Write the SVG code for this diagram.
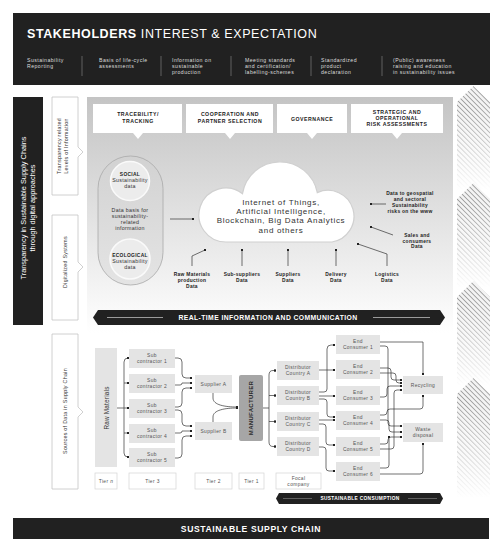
<svg xmlns="http://www.w3.org/2000/svg" width="504" height="550" viewBox="0 0 504 550">
<defs>
<style>
text{font-family:"Liberation Sans",Arial,sans-serif}
.band{fill:#212121}
.sub{font-size:5.2px;fill:#dcdcdc;letter-spacing:0.45px}
.hd{font-size:5.2px;font-weight:700;fill:#222;text-anchor:middle;letter-spacing:0.5px}
.lab{font-size:5.3px;fill:#333;text-anchor:middle;letter-spacing:0.3px}
.dl{font-size:4.9px;font-weight:700;fill:#222;text-anchor:middle;letter-spacing:0.3px}
.bx{fill:#e4e4e4}
.bt{font-size:4.9px;fill:#555;text-anchor:middle;letter-spacing:0.35px}
.c{fill:none;stroke:#333;stroke-width:0.7;marker-end:url(#dot)}
.cn{fill:none;stroke:#333;stroke-width:0.7}
.tier{fill:#fff;stroke:#d4d4d4;stroke-width:0.7}
.lbox{fill:#fff;stroke:#c4c4c4;stroke-width:0.8}
.tb{fill:#fff}
.sep{stroke:#8a8a8a;stroke-width:0.6}
.hatch{fill:url(#hatch)}
.fade{fill:url(#fade)}
</style>
<marker id="dot" viewBox="0 0 4 4" refX="2" refY="2" markerWidth="2.6" markerHeight="2.6" markerUnits="userSpaceOnUse"><circle cx="2" cy="2" r="2" fill="#222"/></marker>
<pattern id="hatch" width="3.5" height="3.5" patternUnits="userSpaceOnUse" patternTransform="rotate(-45)"><rect width="3.5" height="3.5" fill="#f4f4f4"/><line x1="0.5" y1="0" x2="0.5" y2="3.5" stroke="#7c7c7c" stroke-width="0.7"/></pattern>
<linearGradient id="fade" x1="0" y1="0" x2="0" y2="1"><stop offset="0" stop-color="#fff" stop-opacity="0"/><stop offset="0.2" stop-color="#fff" stop-opacity="0.05"/><stop offset="1" stop-color="#fff" stop-opacity="1"/></linearGradient>
<linearGradient id="panel" x1="0" y1="0" x2="0" y2="1"><stop offset="0" stop-color="#c4c4c4"/><stop offset="1" stop-color="#ffffff"/></linearGradient>
<linearGradient id="pill" x1="0" y1="0" x2="0" y2="1"><stop offset="0" stop-color="#d2d2d2"/><stop offset="1" stop-color="#e4e4e4"/></linearGradient>
</defs>

<!-- right hatched chevrons -->
<g id="chevrons">
<path class="hatch" d="M457,102 L473.5,86 L490,102 V190 H457 Z"/>
<path class="fade" d="M457,102 L473.5,86 L490,102 V190 H457 Z"/>
<path class="hatch" d="M457,199 L473.5,183 L490,199 V288 H457 Z"/>
<path class="fade" d="M457,199 L473.5,183 L490,199 V288 H457 Z"/>
<path class="hatch" d="M457,297 L473.5,281 L490,297 V386 H457 Z"/>
<path class="fade" d="M457,297 L473.5,281 L490,297 V386 H457 Z"/>
<path class="hatch" d="M457,394 L473.5,378 L490,394 V498 H457 Z"/>
<path class="fade" d="M457,394 L473.5,378 L490,394 V498 H457 Z"/>
</g>

<!-- top band -->
<g id="stakeholders">
<rect class="band" x="13" y="13" width="477" height="72"/>
<text x="27" y="37.5" font-size="12.5" fill="#fff" letter-spacing="0.6"><tspan font-weight="700">STAKEHOLDERS</tspan> INTEREST &amp; EXPECTATION</text>
<text class="sub" x="27" y="62">Sustainability<tspan x="27" dy="6">Reporting</tspan></text>
<text class="sub" x="99" y="62">Basis of life-cycle<tspan x="99" dy="6">assessments</tspan></text>
<text class="sub" x="172" y="62">Information on<tspan x="172" dy="6">sustainable</tspan><tspan x="172" dy="6">production</tspan></text>
<text class="sub" x="245" y="62">Meeting standards<tspan x="245" dy="6">and certification/</tspan><tspan x="245" dy="6">labelling-schemes</tspan></text>
<text class="sub" x="321" y="62">Standardized<tspan x="321" dy="6">product</tspan><tspan x="321" dy="6">declaration</tspan></text>
<text class="sub" x="393" y="62">(Public) awareness<tspan x="393" dy="6">raising and education</tspan><tspan x="393" dy="6">in sustainability issues</tspan></text>
<line class="sep" x1="82" y1="56" x2="82" y2="76"/>
<line class="sep" x1="161" y1="56" x2="161" y2="76"/>
<line class="sep" x1="231" y1="56" x2="231" y2="76"/>
<line class="sep" x1="311" y1="56" x2="311" y2="76"/>
<line class="sep" x1="382" y1="56" x2="382" y2="76"/>
</g>

<!-- left bar -->
<g id="transparency-bar">
<rect class="band" x="13" y="97" width="30" height="228"/>
<text transform="rotate(-90 26 208)" x="26" y="208" font-size="7.4" fill="#fff" text-anchor="middle">Transparency in Sustainable Supply Chains</text>
<text transform="rotate(-90 35 208)" x="35" y="208" font-size="7.4" fill="#fff" text-anchor="middle">through digital approaches</text>
</g>

<g id="label-levels">
<path class="lbox" d="M52,97 H78 V147 L83,152 L78,157 V195 H52 Z"/>
<text class="lab" transform="rotate(-90 61 146)" x="61" y="146">Transparency related</text>
<text class="lab" transform="rotate(-90 68 146)" x="68" y="146">Levels of Information</text>
</g>
<g id="label-digital">
<path class="lbox" d="M52,215 H78 V262 L83,267 L78,272 V320 H52 Z"/>
<text class="lab" font-size="5" letter-spacing="0.15" transform="rotate(-90 67 262)" x="67" y="262">Digitalized Systems</text>
</g>
<g id="label-sources">
<path class="lbox" d="M52,334 H78 V407 L83,412 L78,417 V489 H52 Z"/>
<text class="lab" font-size="5.6" letter-spacing="0.25" transform="rotate(-90 67 411)" x="67" y="411">Sources of Data in Supply Chain</text>
</g>

<!-- gray panel -->
<rect x="87" y="97" width="366" height="236" fill="url(#panel)"/>

<g id="tracebility">
<path class="tb" d="M93,104 H182 V133 H143 L138,139 L133,133 H93 Z"/>
<text class="hd" x="138" y="116">TRACEBILITY/<tspan x="138" dy="7">TRACKING</tspan></text>
</g>
<g id="cooperation">
<path class="tb" d="M186,104 H273 V133 H235 L230,139 L225,133 H186 Z"/>
<text class="hd" x="230" y="116">COOPERATION AND<tspan x="230" dy="7">PARTNER SELECTION</tspan></text>
</g>
<g id="governance">
<path class="tb" d="M277,104 H347 V133 H317 L312,139 L307,133 H277 Z"/>
<text class="hd" x="312" y="121">GOVERNANCE</text>
</g>
<g id="strategic">
<path class="tb" d="M351,104 H443 V133 H402 L397,139 L392,133 H351 Z"/>
<text class="hd" x="397" y="114">STRATEGIC AND<tspan x="397" dy="6">OPERATIONAL</tspan><tspan x="397" dy="6">RISK ASSESSMENTS</tspan></text>
</g>

<g id="sustainability-data">
<rect x="98" y="156" width="65" height="129" rx="32.5" fill="url(#pill)" stroke="#a8a8a8" stroke-width="0.8"/>
<circle cx="130" cy="181" r="19.5" fill="#ececec" stroke="#fafafa" stroke-width="1.5"/>
<text class="dl" font-size="5.4" x="130" y="176">SOCIAL</text>
<text class="lab" font-size="4.8" x="130" y="182">Sustainability<tspan x="130" dy="5.6">data</tspan></text>
<text class="lab" font-size="5.3" letter-spacing="0.45" x="130" y="212">Data basis for<tspan x="130" dy="6">sustainability-</tspan><tspan x="130" dy="6">related</tspan><tspan x="130" dy="6">information</tspan></text>
<circle cx="130" cy="259" r="20" fill="#ececec" stroke="#fafafa" stroke-width="1.5"/>
<text class="dl" font-size="5" letter-spacing="0.2" x="130" y="257">ECOLOGICAL</text>
<text class="lab" font-size="4.8" x="130" y="263">Sustainability<tspan x="130" dy="5.6">data</tspan></text>
</g>

<g id="cloud">
<path d="M226,242 A27,27 0 1 1 242.5,193.7 A38,38 0 0 1 317.3,192.6 A26,26 0 1 1 332,242 Z" fill="#fff" stroke="#d0d0d0" stroke-width="1.2"/>
<text x="281" y="205" font-size="8" fill="#333" text-anchor="middle" letter-spacing="0.7">Internet of Things,<tspan x="281" dy="9.2">Artificial Intelligence,</tspan><tspan x="281" dy="9.2">Blockchain, Big Data Analytics</tspan><tspan x="281" dy="9.2">and others</tspan></text>
</g>

<g id="data-labels">
<text class="dl" x="410" y="195">Data to geospatial<tspan x="410" dy="6">and sectoral</tspan><tspan x="410" dy="6">Sustainability</tspan><tspan x="410" dy="6">risks on the www</tspan></text>
<text class="dl" x="417" y="237">Sales and<tspan x="417" dy="5.7">consumers</tspan><tspan x="417" dy="5.7">Data</tspan></text>
<text class="dl" x="192" y="276">Raw Materials<tspan x="192" dy="6">production</tspan><tspan x="192" dy="6">Data</tspan></text>
<text class="dl" x="242" y="276">Sub-suppliers<tspan x="242" dy="6">Data</tspan></text>
<text class="dl" x="288" y="276">Suppliers<tspan x="288" dy="6">Data</tspan></text>
<text class="dl" x="336" y="276">Delivery<tspan x="336" dy="6">Data</tspan></text>
<text class="dl" x="387" y="276">Logistics<tspan x="387" dy="6">Data</tspan></text>
</g>

<g id="realtime-banner">
<path class="band" d="M98,310 H440 L445,317.5 L440,325 H98 L93,317.5 Z"/>
<line x1="107" y1="317.5" x2="163" y2="317.5" stroke="#9a9a9a" stroke-width="1"/>
<line x1="373" y1="317.5" x2="430" y2="317.5" stroke="#9a9a9a" stroke-width="1"/>
<text x="268" y="320" font-size="6.8" font-weight="700" fill="#fff" text-anchor="middle" letter-spacing="0.4">REAL-TIME INFORMATION AND COMMUNICATION</text>
</g>

<!-- supply chain nodes -->
<g id="raw-materials">
<rect class="bx" x="95" y="348" width="22" height="119"/>
<text transform="rotate(-90 108.5 408)" x="108.5" y="408" font-size="6.4" fill="#333" text-anchor="middle" letter-spacing="0.2">Raw Materials</text>
</g>
<g id="sub1"><rect class="bx" x="129" y="349" width="46" height="19"/><text class="bt" x="152" y="357">Sub<tspan x="152" dy="6">contractor 1</tspan></text></g>
<g id="sub2"><rect class="bx" x="129" y="374" width="46" height="19"/><text class="bt" x="152" y="382">Sub<tspan x="152" dy="6">contractor 2</tspan></text></g>
<g id="sub3"><rect class="bx" x="129" y="399" width="46" height="19"/><text class="bt" x="152" y="407">Sub<tspan x="152" dy="6">contractor 3</tspan></text></g>
<g id="sub4"><rect class="bx" x="129" y="424" width="46" height="19"/><text class="bt" x="152" y="432">Sub<tspan x="152" dy="6">contractor 4</tspan></text></g>
<g id="sub5"><rect class="bx" x="129" y="448" width="46" height="19"/><text class="bt" x="152" y="456">Sub<tspan x="152" dy="6">contractor 5</tspan></text></g>
<g id="supplierA"><rect class="bx" x="195" y="375" width="37" height="18"/><text class="bt" font-size="5.3" x="213.5" y="386">Supplier A</text></g>
<g id="supplierB"><rect class="bx" x="195" y="422" width="37" height="18"/><text class="bt" font-size="5.3" x="213.5" y="433">Supplier B</text></g>
<g id="manufacturer">
<rect x="239" y="375" width="24" height="66" rx="2" fill="#a6a6a6"/>
<text transform="rotate(-90 253.2 408)" x="253.2" y="408" font-size="6" font-weight="700" fill="#2a2a2a" text-anchor="middle" letter-spacing="0.3">MANUFACTURER</text>
</g>
<g id="distA"><rect class="bx" x="277" y="361" width="42" height="19"/><text class="bt" x="298" y="369">Distributor<tspan x="298" dy="6">Country A</tspan></text></g>
<g id="distB"><rect class="bx" x="277" y="386" width="42" height="19"/><text class="bt" x="298" y="394">Distributor<tspan x="298" dy="6">Country B</tspan></text></g>
<g id="distC"><rect class="bx" x="277" y="412" width="42" height="19"/><text class="bt" x="298" y="420">Distributor<tspan x="298" dy="6">Country C</tspan></text></g>
<g id="distD"><rect class="bx" x="277" y="437" width="42" height="19"/><text class="bt" x="298" y="445">Distributor<tspan x="298" dy="6">Country D</tspan></text></g>
<g id="ec1"><rect class="bx" x="336" y="335" width="44" height="19"/><text class="bt" x="358" y="343">End<tspan x="358" dy="6">Consumer 1</tspan></text></g>
<g id="ec2"><rect class="bx" x="336" y="360" width="44" height="19"/><text class="bt" x="358" y="368">End<tspan x="358" dy="6">Consumer 2</tspan></text></g>
<g id="ec3"><rect class="bx" x="336" y="386" width="44" height="19"/><text class="bt" x="358" y="394">End<tspan x="358" dy="6">Consumer 3</tspan></text></g>
<g id="ec4"><rect class="bx" x="336" y="411" width="44" height="19"/><text class="bt" x="358" y="419">End<tspan x="358" dy="6">Consumer 4</tspan></text></g>
<g id="ec5"><rect class="bx" x="336" y="437" width="44" height="19"/><text class="bt" x="358" y="445">End<tspan x="358" dy="6">Consumer 5</tspan></text></g>
<g id="ec6"><rect class="bx" x="336" y="462" width="44" height="19"/><text class="bt" x="358" y="470">End<tspan x="358" dy="6">Consumer 6</tspan></text></g>
<g id="recycling"><rect class="bx" x="403" y="376" width="40" height="18"/><text class="bt" font-size="6" x="423" y="387">Recycling</text></g>
<g id="waste"><rect class="bx" x="403" y="423" width="40" height="19"/><text class="bt" font-size="5.3" x="423" y="431">Waste<tspan x="423" dy="6">disposal</tspan></text></g>

<g id="tiers">
<rect class="tier" x="95" y="473" width="22" height="16"/><text class="bt" fill="#333" font-size="4.6" x="106" y="482.5">Tier <tspan font-style="italic">n</tspan></text>
<rect class="tier" x="129" y="473" width="47" height="16"/><text class="bt" fill="#333" font-size="4.6" x="152.5" y="482.5">Tier 3</text>
<rect class="tier" x="195" y="473" width="37" height="16"/><text class="bt" fill="#333" font-size="4.6" x="213.5" y="482.5">Tier 2</text>
<rect class="tier" x="239" y="473" width="25" height="16"/><text class="bt" fill="#333" font-size="4.6" x="251.5" y="482.5">Tier 1</text>
<rect class="tier" x="276" y="473" width="45" height="16"/><text class="bt" fill="#333" font-size="4.6" x="298.5" y="480">Focal<tspan x="298.5" dy="5.5">company</tspan></text>
</g>

<g id="consumption-banner">
<path class="band" d="M279,493 H440 L443,498.5 L440,504 H279 L276,498.5 Z"/>
<line x1="283" y1="498.5" x2="312" y2="498.5" stroke="#8a8a8a" stroke-width="0.6"/>
<line x1="408" y1="498.5" x2="437" y2="498.5" stroke="#8a8a8a" stroke-width="0.6"/>
<text x="360" y="500.3" font-size="4.8" font-weight="700" fill="#fff" text-anchor="middle" letter-spacing="0.35">SUSTAINABLE CONSUMPTION</text>
</g>

<g id="supply-chain-band">
<rect class="band" x="13" y="518" width="476" height="21"/>
<text x="251" y="531.5" font-size="8.6" font-weight="700" fill="#fff" text-anchor="middle" letter-spacing="0.6">SUSTAINABLE SUPPLY CHAIN</text>
</g>

<!-- connectors -->
<g id="connectors">
<path class="c" d="M170,219 H193"/>
<path class="c" d="M386,204 H371"/>
<path class="c" d="M393,235 L371,227"/>
<path class="c" d="M192,266 V256 L205,250"/>
<path class="c" d="M242,266 V250"/>
<path class="c" d="M288,266 V250"/>
<path class="c" d="M336,266 V250"/>
<path class="c" d="M387,266 V254 L358,244"/>

<path class="cn" d="M117,408 H124"/>
<path class="cn" d="M124,362 V453"/>
<path class="c" d="M124,362 q0,-4 4,-4"/>
<path class="c" d="M124,383 H128"/>
<path class="c" d="M124,408 H128"/>
<path class="c" d="M124,433 H128"/>
<path class="c" d="M124,453 q0,4 4,4"/>

<path class="c" d="M175,358 h3 q4,0 4,4 v12 q0,4 4,4 h5"/>
<path class="c" d="M175,385 h5 q2,0 2,-2 h9"/>
<path class="c" d="M175,407 h3 q4,0 4,-4 v-11 q0,-4 4,-4 h5"/>
<path class="c" d="M175,410 h3 q4,0 4,4 v8 q0,4 4,4 h5"/>
<path class="c" d="M175,433 h5 q2,0 2,-2 h9"/>
<path class="c" d="M175,458 h3 q4,0 4,-4 v-14 q0,-4 4,-4 h5"/>

<path class="c" d="M213,393 v5 c0,7 12,9 24,9"/>
<path class="c" d="M213,422 v-5 c0,-7 12,-9 24,-9"/>

<path class="cn" d="M263,408 H269"/>
<path class="cn" d="M269,375 V442"/>
<path class="c" d="M269,375 q0,-4.5 4,-4.5 h2"/>
<path class="c" d="M269,395.5 H275"/>
<path class="c" d="M269,421.5 H275"/>
<path class="c" d="M269,442 q0,4.5 4,4.5 h2"/>

<path class="c" d="M319,370 H334"/>
<path class="c" d="M319,392 h5 q3,0 3,-3 v-40 q0,-4 4,-4 h3"/>
<path class="c" d="M319,396 H334"/>
<path class="c" d="M319,399 h5 q3,0 3,3 v12 q0,3 3,3 h4"/>
<path class="c" d="M319,420 H334"/>
<path class="c" d="M319,424 h4 q3,0 3,3 v15 q0,3 3,3 h5"/>
<path class="c" d="M319,447 h4 q3,0 3,3 v18 q0,3 3,3 h5"/>

<path class="c" d="M380,342 H423 V374"/>
<path class="c" d="M380,346 h5 q3,0 3,3 v74 q0,3 3,3 h10"/>
<path class="c" d="M380,368 h8 q3,0 3,3 v6 q0,3 3,3 h7"/>
<path class="c" d="M380,373 h13 q3,0 3,3 v4 q0,3 3,3 h2"/>
<path class="c" d="M380,397 h4 q3,0 3,-3 v-5 q0,-3 3,-3 h11"/>
<path class="c" d="M380,415 h4 q3,0 3,-3 q0,-3 3,-3 h30 q3,0 3,-3 v-10"/>
<path class="c" d="M380,420 h6 q3,0 3,3 v6 q0,3 3,3 h9"/>
<path class="c" d="M380,444 h5 q3,0 3,-3 v-1 q0,-3 3,-3 h10"/>
<path class="c" d="M380,449 h11 q3,0 3,-3 v-53 q0,-3 3,-3 h4"/>
<path class="c" d="M380,468 h6 q3,0 3,-3 v-28"/>
<path class="c" d="M380,474 h40 q3,0 3,-3 v-27"/>
</g>
</svg>
